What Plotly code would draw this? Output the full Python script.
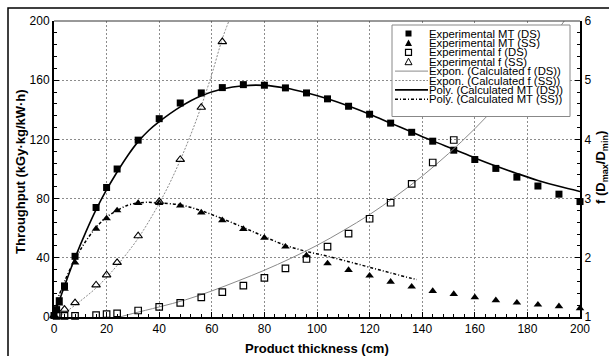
import plotly.graph_objects as go

# ---------------- data ----------------
x_exp = [0, 1, 2, 4, 8, 16, 20, 24, 32, 40, 48, 56, 64, 72, 80, 88, 96, 104, 112,
         120, 128, 136, 144, 152, 160, 168, 176, 184, 192, 200]
mt_ds = [1, 5, 11, 21, 41, 74, 87.5, 100, 119.5, 134, 144.6, 151.4, 155, 157, 156.6,
         154.8, 151.4, 147.4, 142.4, 137, 131, 124.8, 118.8, 112.7, 106.4, 100.4,
         94.5, 88.5, 83, 78]
mt_ss = [1, 4, 9, 19, 36.8, 59.6, 66.6, 72, 77, 77, 75.2, 70.6, 65.3, 59.4, 53.5,
         47.5, 41.6, 36.2, 31.7, 27.9, 23.8, 20.5, 17.5, 15.5, 13.3, 11.3, 9.7, 8.3,
         7.2, 5.9]

x_f_ds = [1, 4, 8, 16, 20, 24, 32, 40, 48, 56, 64, 72, 80, 88, 96, 104, 112, 120,
          128, 136, 144, 152]
f_ds = [1.02, 1.02, 1.02, 1.03, 1.05, 1.06, 1.11, 1.17, 1.24, 1.33, 1.42, 1.53, 1.66,
        1.82, 1.98, 2.19, 2.41, 2.66, 2.93, 3.25, 3.61, 3.99]

x_f_ss = [0, 4, 8, 16, 20, 24, 32, 40, 48, 56, 64]
f_ss = [1.02, 1.13, 1.24, 1.54, 1.71, 1.92, 2.37, 2.95, 3.66, 4.54, 5.65]

# calculated (trend-line) curves
x_poly_ds = [0, 2, 4, 8, 12, 16, 20, 24, 28, 32, 36, 40, 48, 56, 64, 72, 80, 88, 96,
             104, 112, 120, 128, 136, 144, 152, 160, 168, 176, 184, 192, 200]
poly_ds = [2, 11, 21, 40, 57, 72.5, 86, 98, 109, 118.5, 126, 132, 142, 149.5, 154,
           156.3, 156.5, 154.7, 151.5, 147.4, 142.5, 137, 131, 125, 119, 113.3, 107.5,
           102, 97, 92.3, 88.3, 84.8]
x_poly_ss = [1, 2, 4, 8, 12, 16, 20, 24, 28, 32, 36, 40, 48, 56, 64, 72, 80, 88, 96,
             104, 112, 120, 128, 136, 138]
poly_ss = [11, 15, 24, 39, 51, 60.5, 67.5, 72, 75.5, 77, 77.5, 77, 75.8, 71.8, 66.4,
           60.5, 54.3, 48.4, 44.3, 41.1, 37.4, 33.6, 29.8, 26.1, 25.3]
x_expo_ds = [25, 30, 40, 50, 60, 70, 80, 90, 100, 110, 120, 130, 140, 150, 160, 170,
             180, 190, 194]
expo_ds = [1.0, 1.06, 1.17, 1.29, 1.44, 1.61, 1.79, 1.99, 2.21, 2.46, 2.73, 3.04, 3.38,
           3.76, 4.18, 4.65, 5.17, 5.75, 6.0]
x_expo_ss = [1.5, 4, 8, 12, 16, 20, 24, 28, 32, 36, 40, 44, 48, 52, 56, 60, 64, 66.5]
expo_ss = [1.0, 1.07, 1.2, 1.34, 1.49, 1.67, 1.87, 2.09, 2.33, 2.61, 2.92, 3.26, 3.65,
           4.08, 4.56, 5.1, 5.7, 6.0]

legend_labels = ["Experimental MT (DS)", "Experimental MT (SS)", "Experimental f (DS)",
                 "Experimental f (SS)", "Expon. (Calculated f (DS))",
                 "Expon. (Calculated f (SS))", "Poly. (Calculated MT (DS))",
                 "Poly. (Calculated MT (SS))"]

x_ticks = list(range(0, 201, 20))
y_ticks = list(range(0, 201, 40))
y2_ticks = [1, 2, 3, 4, 5, 6]

# ---------------- figure ----------------
W, H = 609, 356
L, R, T, B = 54, 29, 21, 39
PW, PH = W - L - R, H - T - B
FONT = "Liberation Sans, Arial, sans-serif"
GRAY = "#8a8a8a"


def px(xp):
    return (xp - L) / PW


def py(yp):
    return (H - B - yp) / PH


fig = go.Figure()

# calculated lines (drawn first, below markers)
fig.add_trace(go.Scatter(x=x_expo_ds, y=expo_ds, yaxis="y2", mode="lines",
                         line=dict(color=GRAY, width=1, shape="spline"),
                         showlegend=False))
fig.add_trace(go.Scatter(x=x_expo_ss, y=expo_ss, yaxis="y2", mode="lines",
                         line=dict(color=GRAY, width=1, dash="2px,1.5px", shape="spline"),
                         showlegend=False))
fig.add_trace(go.Scatter(x=x_poly_ds, y=poly_ds, mode="lines",
                         line=dict(color="black", width=1.6, shape="spline"),
                         showlegend=False))
fig.add_trace(go.Scatter(x=x_poly_ss, y=poly_ss, mode="lines",
                         line=dict(color="black", width=1.5, dash="3px,2px,1px,2px",
                                   shape="spline"),
                         showlegend=False))

# experimental markers
fig.add_trace(go.Scatter(x=x_f_ds, y=f_ds, yaxis="y2", mode="markers", cliponaxis=False,
                         marker=dict(symbol="square-open", size=6.5, color="black",
                                     line=dict(width=1.2, color="black")),
                         showlegend=False))
fig.add_trace(go.Scatter(x=x_f_ss, y=f_ss, yaxis="y2", mode="markers", cliponaxis=False,
                         marker=dict(symbol="triangle-up-open", size=7.5, color="black",
                                     line=dict(width=1.1, color="black")),
                         showlegend=False))
fig.add_trace(go.Scatter(x=x_exp, y=mt_ss, mode="markers", cliponaxis=False,
                         marker=dict(symbol="triangle-up", size=7.5, color="black",
                                     line=dict(width=0)),
                         showlegend=False))
fig.add_trace(go.Scatter(x=x_exp, y=mt_ds, mode="markers", cliponaxis=False,
                         marker=dict(symbol="square", size=7, color="black",
                                     line=dict(width=0)),
                         showlegend=False))

shapes = []
# outer frame (left and top edges only visible)
shapes.append(dict(type="path", xref="paper", yref="paper",
                   path=f"M {px(8)},{py(360)} L {px(8)},{py(8)} L {px(612)},{py(8)}",
                   line=dict(color="black", width=1.5), layer="above"))
# top border of the plot area
shapes.append(dict(type="line", xref="paper", yref="paper", x0=0, x1=1, y0=1, y1=1,
                   line=dict(color="#333333", width=1), layer="above"))

# manual legend
lx0, lx1, ly0, ly1 = 392, 570, 25, 116.5
shapes.append(dict(type="rect", xref="paper", yref="paper",
                   x0=px(lx0), x1=px(lx1), y0=py(ly1), y1=py(ly0),
                   fillcolor="white", line=dict(color="#888888", width=1), layer="above"))
row_y = [33.5 + 9.4 * i for i in range(len(legend_labels))]
mx = 408.5
s = 3
# filled square
yy = row_y[0]
shapes.append(dict(type="rect", xref="paper", yref="paper", x0=px(mx - s), x1=px(mx + s),
                   y0=py(yy + s), y1=py(yy - s), fillcolor="black",
                   line=dict(width=0), layer="above"))
# filled triangle
yy = row_y[1]
shapes.append(dict(type="path", xref="paper", yref="paper",
                   path=f"M {px(mx - 3.5)},{py(yy + 3)} L {px(mx + 3.5)},{py(yy + 3)} "
                        f"L {px(mx)},{py(yy - 3.5)} Z",
                   fillcolor="black", line=dict(width=0), layer="above"))
# open square
yy = row_y[2]
shapes.append(dict(type="rect", xref="paper", yref="paper", x0=px(mx - s), x1=px(mx + s),
                   y0=py(yy + s), y1=py(yy - s), fillcolor="white",
                   line=dict(width=1.2, color="black"), layer="above"))
# open triangle
yy = row_y[3]
shapes.append(dict(type="path", xref="paper", yref="paper",
                   path=f"M {px(mx - 3.5)},{py(yy + 3)} L {px(mx + 3.5)},{py(yy + 3)} "
                        f"L {px(mx)},{py(yy - 3.5)} Z",
                   fillcolor="white", line=dict(width=1, color="black"), layer="above"))
line_styles = [dict(color=GRAY, width=1),
               dict(color=GRAY, width=1, dash="2px,1.5px"),
               dict(color="black", width=1.6),
               dict(color="black", width=1.5, dash="3px,2px,1px,2px")]
for i, st in enumerate(line_styles):
    yy = row_y[4 + i]
    shapes.append(dict(type="line", xref="paper", yref="paper",
                       x0=px(395), x1=px(428), y0=py(yy), y1=py(yy),
                       line=st, layer="above"))

annotations = []
for lab, yy in zip(legend_labels, row_y):
    annotations.append(dict(text=lab, xref="paper", yref="paper", x=px(427), y=py(yy),
                            xanchor="left", yanchor="middle", showarrow=False,
                            font=dict(family=FONT, size=11.3, color="black")))
# axis titles
annotations.append(dict(text="<b>Product thickness (cm)</b>", xref="paper", yref="paper",
                        x=px(317), y=py(348), xanchor="center", yanchor="middle",
                        showarrow=False, font=dict(family=FONT, size=13, color="black")))
annotations.append(dict(text="<b>Throughput (kGy·kg/kW·h)</b>", xref="paper", yref="paper",
                        x=px(20), y=py(172), xanchor="center", yanchor="middle",
                        textangle=-90, showarrow=False,
                        font=dict(family=FONT, size=13, color="black")))
annotations.append(dict(text="<b>f (D<sub>max</sub>/D<sub>min</sub>)</b>", xref="paper",
                        yref="paper", x=px(601), y=py(168), xanchor="center",
                        yanchor="middle", textangle=-90, showarrow=False,
                        font=dict(family=FONT, size=13, color="black")))

grid = dict(showgrid=True, gridcolor="#8c8c8c", gridwidth=1, griddash="2px,2px")

fig.update_layout(
    width=W, height=H,
    margin=dict(l=L, r=R, t=T, b=B, pad=0),
    paper_bgcolor="white", plot_bgcolor="white",
    font=dict(family=FONT, size=12, color="black"),
    showlegend=False,
    xaxis=dict(range=[0, 200], tickvals=x_ticks, ticks="inside", ticklen=5,
               tickwidth=1, tickcolor="black", showline=True, linecolor="black",
               linewidth=2, zeroline=False, tickfont=dict(size=12),
               minor=dict(dtick=4, ticks="inside", ticklen=3, tickcolor="black",
                          showgrid=False),
               **grid),
    yaxis=dict(range=[0, 200], tickvals=y_ticks, ticks="inside", ticklen=5,
               tickwidth=1, tickcolor="black", showline=True, linecolor="black",
               linewidth=2, zeroline=False, tickfont=dict(size=12),
               minor=dict(dtick=8, ticks="inside", ticklen=3, tickcolor="black",
                          showgrid=False),
               **grid),
    yaxis2=dict(range=[1, 6], tickvals=y2_ticks, overlaying="y", side="right",
                ticks="inside", ticklen=5, tickwidth=1, tickcolor="black",
                showline=True, linecolor="black", linewidth=2, zeroline=False,
                showgrid=False, tickfont=dict(size=12),
                minor=dict(dtick=0.2, ticks="inside", ticklen=3, tickcolor="black",
                           showgrid=False)),
    shapes=shapes,
    annotations=annotations,
)

fig.write_html("out.html")
